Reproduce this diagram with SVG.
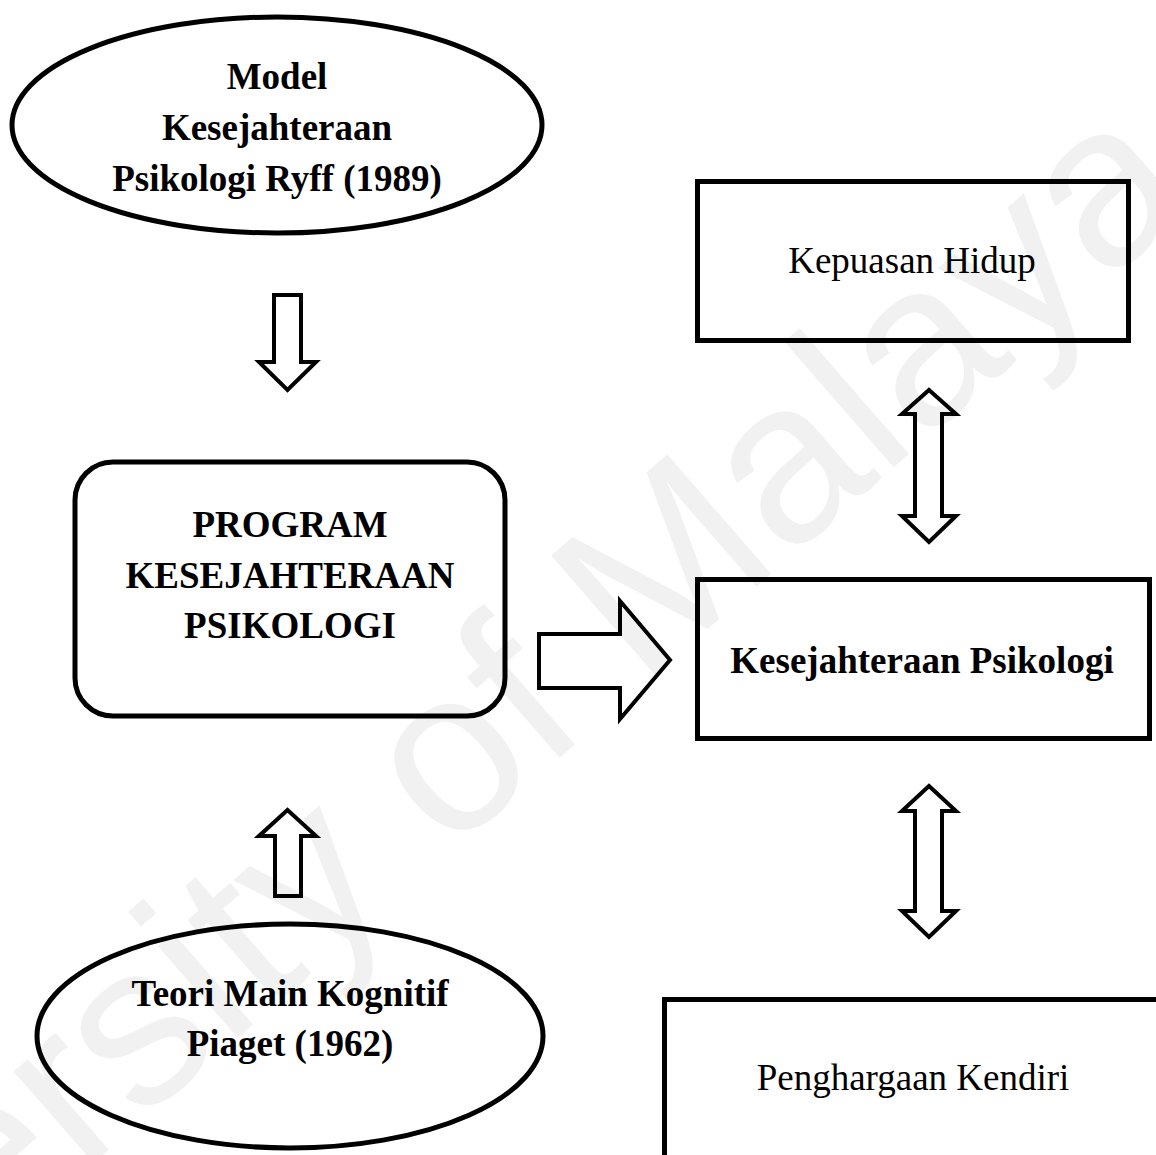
<svg xmlns="http://www.w3.org/2000/svg" width="1156" height="1155" viewBox="0 0 1156 1155">
<style>
.shape{fill:none;stroke:#000;stroke-width:5}
.arrow{fill:none;stroke:#000;stroke-width:4;stroke-linejoin:miter}
.b{font-family:"Liberation Serif","Times New Roman",serif;font-weight:bold;font-size:37px;fill:#000;text-anchor:middle}
.r{font-family:"Liberation Serif","Times New Roman",serif;font-size:37px;fill:#000;text-anchor:middle}
.wm{font-family:"Liberation Sans",Arial,sans-serif;font-size:230px;fill:#f1f1f1;text-anchor:middle}
</style>
<rect width="1156" height="1155" fill="#fff"/>
<text class="wm" transform="translate(419,880) rotate(-41)">University of Malaya</text>
<g id="model-ryff">
<ellipse class="shape" cx="277" cy="125" rx="265" ry="108"/>
<text class="b" x="277" y="89">Model</text>
<text class="b" x="277" y="140">Kesejahteraan</text>
<text class="b" x="277" y="191">Psikologi Ryff (1989)</text>
</g>
<g id="program">
<rect class="shape" x="75" y="462" width="430" height="254" rx="38"/>
<text class="b" x="290" y="537">PROGRAM</text>
<text class="b" x="290" y="588">KESEJAHTERAAN</text>
<text class="b" x="290" y="638">PSIKOLOGI</text>
</g>
<g id="teori-piaget">
<ellipse class="shape" cx="290" cy="1036" rx="253" ry="112"/>
<text class="b" x="290" y="1006">Teori Main Kognitif</text>
<text class="b" x="290" y="1056">Piaget (1962)</text>
</g>
<g id="kepuasan">
<rect class="shape" x="697.5" y="181.5" width="431" height="159"/>
<text class="r" x="912" y="273">Kepuasan Hidup</text>
</g>
<g id="kesejahteraan">
<rect class="shape" x="697.5" y="579.5" width="452" height="159"/>
<text class="b" x="922" y="673">Kesejahteraan Psikologi</text>
</g>
<g id="penghargaan">
<rect class="shape" x="664.5" y="999.5" width="600" height="300"/>
<text class="r" x="913" y="1090">Penghargaan Kendiri</text>
</g>
<g id="connectors">
<path class="arrow" d="M274,295 H301 V362 H316 L287.5,390 L259,362 H274 Z"/>
<path class="arrow" d="M287.5,810 L316,836 H301 V896 H275 V836 H259 Z"/>
<path class="arrow" d="M539,634 H620 V601 L670,660 L620,719 V688 H539 Z"/>
<path class="arrow" d="M929,390 L956,414 H942 V516 H956 L929,542 L902,516 H915 V414 H902 Z"/>
<path class="arrow" d="M929,786 L956,811 H942 V911 H956 L929,937 L902,911 H915 V811 H902 Z"/>
</g>
</svg>
